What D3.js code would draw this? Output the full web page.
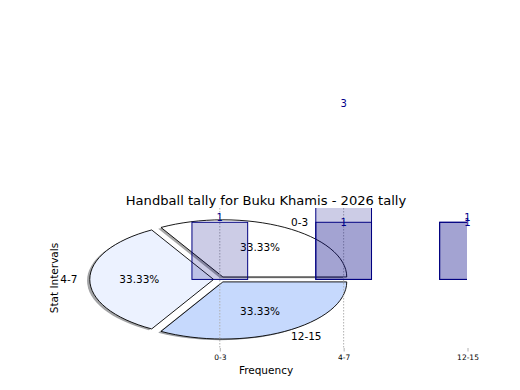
<!DOCTYPE html>
<html>
<head>
<meta charset="utf-8">
<script src="https://cdn.jsdelivr.net/npm/d3@7"></script>
<style>
  body { margin: 0; background: #fff; }
  text { font-family: "DejaVu Sans", sans-serif; }
</style>
</head>
<body>
<div id="chart"></div>
<script>
// data
var categories = ["0-3", "4-7", "12-15"];
var pieShares = [1, 1, 1];
var sliceColors = ["#ffffff", "#ecf2ff", "#c6d9fd"];
var barsA = [1, 3, 1];
var barsB = [0, 1, 1];
var title = "Handball tally for Buku Khamis - 2026 tally";

var width = 520, height = 390;
var plot = {left: 65, right: 467, top: 208, bottom: 348};

var svg = d3.select("#chart").append("svg")
    .attr("width", width).attr("height", height);

var x = d3.scaleLinear().domain([-1.25, 2]).range([plot.left, plot.right + 0.5]);
var y = d3.scaleLinear().domain([-1.2, 1.25]).range([plot.bottom, plot.top]);

var rx = x(1) - x(0), ry = y(0) - y(1);
var explode = 0.05, shadowOff = 0.022;

svg.append("defs").append("clipPath").attr("id", "plotclip")
  .append("rect")
    .attr("x", plot.left).attr("y", plot.top)
    .attr("width", plot.right - plot.left).attr("height", plot.bottom - plot.top);

// pie, drawn in data units so it comes out squashed like the bars' axes
var pie = d3.pie().sort(null)
    .startAngle(Math.PI / 2)
    .endAngle(Math.PI / 2 + 2 * Math.PI);
var arcs = pie(pieShares);
var arc = d3.arc().innerRadius(0).outerRadius(1);

arcs.forEach(function(a, i) {
    var mid = (a.startAngle + a.endAngle) / 2 - Math.PI / 2;
    a.mid = mid;
    a.ox = explode * Math.cos(mid);
    a.oy = explode * Math.sin(mid);
    a.cat = categories[i];
    a.color = sliceColors[i];
});

var pieG = svg.append("g");

pieG.selectAll(".shadow").data(arcs).enter()
  .append("path")
    .attr("class", "shadow")
    .attr("transform", function(d) {
        return "translate(" + x(d.ox - shadowOff) + "," + y(d.oy - shadowOff) + ") scale(" + rx + "," + (-ry) + ")";
    })
    .attr("d", arc)
    .attr("fill", function(d) {
        var c = d3.rgb(d.color);
        return d3.rgb(c.r * 0.3, c.g * 0.3, c.b * 0.3);
    })
    .attr("fill-opacity", 0.5)
    .attr("stroke", "none");

pieG.selectAll(".slice").data(arcs).enter()
  .append("path")
    .attr("class", "slice")
    .attr("transform", function(d) {
        return "translate(" + x(d.ox) + "," + y(d.oy) + ") scale(" + rx + "," + (-ry) + ")";
    })
    .attr("d", arc)
    .attr("fill", function(d) { return d.color; })
    .attr("stroke", "#000")
    .attr("stroke-width", 0.9)
    .attr("vector-effect", "non-scaling-stroke");

// grid lines
var grid = svg.append("g").attr("clip-path", "url(#plotclip)");
grid.selectAll("line").data(categories).enter()
  .append("line")
    .attr("x1", function(d, i) { return x(i); })
    .attr("x2", function(d, i) { return x(i); })
    .attr("y1", plot.top).attr("y2", plot.bottom)
    .attr("stroke", "#b0b0b0")
    .attr("stroke-width", 1)
    .attr("stroke-dasharray", "1.5,1.5");

// bars (two overlapping translucent series)
var barW = 0.45;
var bars = svg.append("g").attr("clip-path", "url(#plotclip)");
[barsA, barsB].forEach(function(series) {
    var items = series.map(function(v, i) { return {v: v, i: i}; })
        .filter(function(d) { return d.v > 0; });
    bars.append("g").selectAll("rect").data(items).enter()
      .append("rect")
        .attr("x", function(d) { return x(d.i - barW / 2); })
        .attr("width", function(d) { return x(d.i + barW / 2) - x(d.i - barW / 2); })
        .attr("y", function(d) { return y(d.v); })
        .attr("height", function(d) { return y(0) - y(d.v); })
        .attr("fill", "rgba(0,0,128,0.2)")
        .attr("stroke", "#000080")
        .attr("stroke-width", 1);
});

// pie labels
pieG.selectAll(".pct").data(arcs).enter()
  .append("text")
    .attr("x", function(d) { return x(d.ox + 0.6 * Math.cos(d.mid)); })
    .attr("y", function(d) { return y(d.oy + 0.6 * Math.sin(d.mid)); })
    .attr("dy", "0.35em")
    .attr("text-anchor", "middle")
    .attr("font-size", 10.5)
    .text(function(d) { return (100 * (d.endAngle - d.startAngle) / (2 * Math.PI)).toFixed(2) + "%"; });

pieG.selectAll(".outer").data(arcs).enter()
  .append("text")
    .attr("x", function(d) { return x(d.ox + 1.1 * Math.cos(d.mid)); })
    .attr("y", function(d) { return y(d.oy + 1.1 * Math.sin(d.mid)); })
    .attr("dy", "0.35em")
    .attr("text-anchor", function(d) { return Math.cos(d.mid) > 0 ? "start" : "end"; })
    .attr("font-size", 10.5)
    .text(function(d) { return d.cat; });

// bar value labels
var labA = barsA.map(function(v, i) { return {v: v, i: i}; });
svg.append("g").selectAll("text").data(labA).enter()
  .append("text")
    .attr("x", function(d) { return x(d.i); })
    .attr("y", function(d) { return y(d.v) - 1; })
    .attr("text-anchor", "middle")
    .attr("font-size", 10)
    .attr("fill", "#00008b")
    .text(function(d) { return d.v; });

var labB = barsB.map(function(v, i) { return {v: v, i: i}; })
    .filter(function(d) { return d.v > 0; });
svg.append("g").selectAll("text").data(labB).enter()
  .append("text")
    .attr("x", function(d) { return x(d.i); })
    .attr("y", function(d) { return y(d.v); })
    .attr("dy", "0.35em")
    .attr("text-anchor", "middle")
    .attr("font-size", 10)
    .attr("fill", "#00008b")
    .text(function(d) { return d.v; });

// x axis
var xAxis = d3.axisBottom(x)
    .tickValues([0, 1, 2])
    .tickFormat(function(d) { return categories[d]; })
    .tickSize(3.5)
    .tickPadding(3.5);
var ax = svg.append("g")
    .attr("transform", "translate(0," + plot.bottom + ")")
    .call(xAxis);
ax.select(".domain").remove();
ax.selectAll(".tick line").attr("stroke", "#b0b0b0");
ax.selectAll(".tick text").attr("font-size", 7.5).attr("font-family", "DejaVu Sans").attr("fill", "#000");

// titles
var cx = (plot.left + plot.right) / 2;
svg.append("text")
    .attr("x", cx).attr("y", 205)
    .attr("text-anchor", "middle")
    .attr("font-size", 13.1)
    .text(title);

svg.append("text")
    .attr("x", cx).attr("y", 374)
    .attr("text-anchor", "middle")
    .attr("font-size", 10.5)
    .text("Frequency");

svg.append("text")
    .attr("transform", "translate(58," + ((plot.top + plot.bottom) / 2) + ") rotate(-90)")
    .attr("text-anchor", "middle")
    .attr("font-size", 10.5)
    .text("Stat Intervals");
</script>
</body>
</html>
